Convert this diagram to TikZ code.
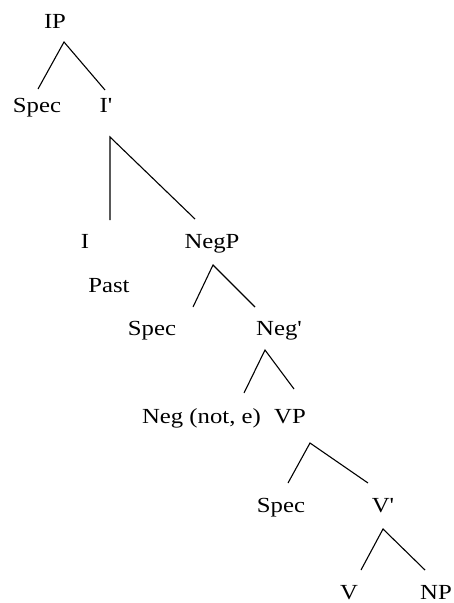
\documentclass[tikz,border=0pt]{standalone}
\usepackage{fontspec}
\newfontfamily\treefont{Liberation Serif}
\newcommand{\wtx}[1]{\scalebox{1.15}[1]{#1}}
\begin{document}
\begin{tikzpicture}[x=1pt,y=-1pt,
  lab/.style={anchor=base,inner sep=0pt,font=\treefont\fontsize{21.5}{24}\selectfont},
  branch/.style={line width=1.1pt,line join=miter}]
\useasboundingbox (0,0) rectangle (454,603);
% labels
\node[lab] (IP) at (55,28) {\wtx{IP}};
\node[lab] (spec1) at (37,112) {\wtx{Spec}};
\node[lab] (ibar) at (106,112) {\wtx{I'}};
\node[lab] (I) at (85,248) {\wtx{I}};
\node[lab] (negp) at (212,248) {\wtx{NegP}};
\node[lab] (past) at (109,292) {\wtx{Past}};
\node[lab] (spec2) at (152,335) {\wtx{Spec}};
\node[lab] (negbar) at (279,335) {\wtx{Neg'}};
\node[lab] (neg) at (201.5,423) {\wtx{Neg (not, e)}};
\node[lab] (vp) at (290,423) {\wtx{VP}};
\node[lab] (spec3) at (281,512) {\wtx{Spec}};
\node[lab] (vbar) at (383,512) {\wtx{V'}};
\node[lab,text depth=0pt] (v) at (349,599) {\wtx{V}};
\node[lab,text depth=0pt] (np) at (436,599) {\wtx{NP}};
% branch points
\coordinate (ipT) at (64,42);   \coordinate (ipL) at (38,89);   \coordinate (ipR) at (105,90);
\coordinate (ibT) at (110,137); \coordinate (ibL) at (110,220); \coordinate (ibR) at (195,219);
\coordinate (npT) at (213,265); \coordinate (npL) at (193,307); \coordinate (npR) at (255,307);
\coordinate (nbT) at (265,350); \coordinate (nbL) at (244,393); \coordinate (nbR) at (294,389);
\coordinate (vpT) at (310,443); \coordinate (vpL) at (288,483); \coordinate (vpR) at (368,483);
\coordinate (vbT) at (383,529); \coordinate (vbL) at (361,570); \coordinate (vbR) at (425,570);
\draw[branch] (ipL) -- (ipT) -- (ipR);
\draw[branch] (ibL) -- (ibT) -- (ibR);
\draw[branch] (npL) -- (npT) -- (npR);
\draw[branch] (nbL) -- (nbT) -- (nbR);
\draw[branch] (vpL) -- (vpT) -- (vpR);
\draw[branch] (vbL) -- (vbT) -- (vbR);
\end{tikzpicture}
\end{document}
